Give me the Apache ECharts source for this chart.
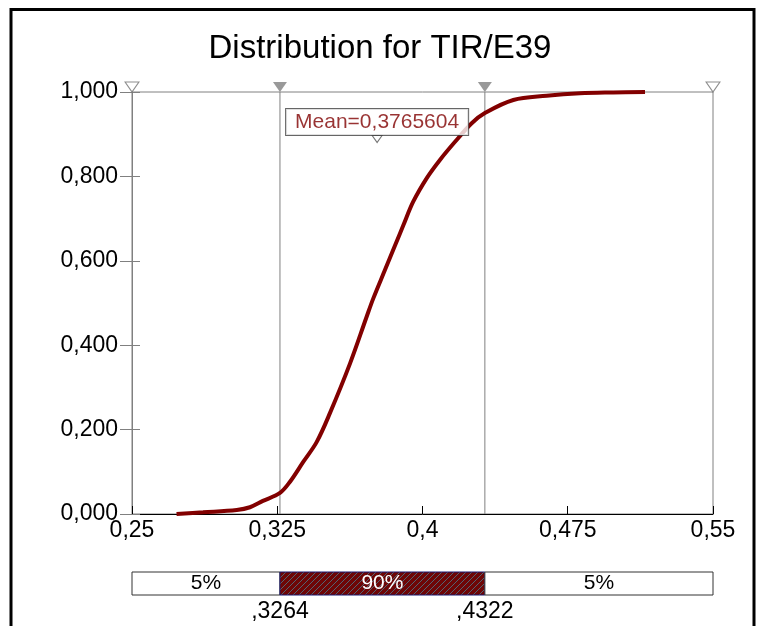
<!DOCTYPE html>
<html>
<head>
<meta charset="utf-8">
<script src="https://cdn.jsdelivr.net/npm/echarts@6/dist/echarts.min.js"></script>
<style>html,body{margin:0;padding:0;background:#fff}#c{width:760px;height:626px}</style>
</head>
<body>
<div id="c"></div>
<script>
// ---- data ----
const titleText = 'Distribution for TIR/E39';
const xVals   = [0.273, 0.2867, 0.3041, 0.3109, 0.3176, 0.3264, 0.3316, 0.3385, 0.3454, 0.3522, 0.3626, 0.3712, 0.3746, 0.3806, 0.3858, 0.3901, 0.3952, 0.4022, 0.4090, 0.4168, 0.4254, 0.4322, 0.4469, 0.4641, 0.4813, 0.4984, 0.5149];
const cdfVals = [0.000, 0.004, 0.0095, 0.016, 0.031, 0.050, 0.0765, 0.124, 0.171, 0.239, 0.357, 0.468, 0.511, 0.578, 0.636, 0.684, 0.740, 0.796, 0.839, 0.882, 0.926, 0.950, 0.981, 0.991, 0.997, 0.999, 1.000];
const xTicks = [0.25, 0.325, 0.4, 0.475, 0.55];
const rangeEnds = [0.25, 0.55];
const pct5 = 0.3264, pct95 = 0.4322;
const meanVal = 0.3765604;
const bounds = [0.25, 0.3264, 0.4322, 0.55];
const pctLabels = ['5%', '90%', '5%'];

const FONT = '"Liberation Sans", Arial, sans-serif';
const comma = s => s.replace('.', ',');

function hatch() {
  const c = document.createElement('canvas'); c.width = 6; c.height = 6;
  const g = c.getContext('2d');
  g.fillStyle = '#6e0606'; g.fillRect(0, 0, 6, 6);
  g.strokeStyle = 'rgba(70,140,160,0.7)'; g.lineWidth = 1;
  g.beginPath();
  g.moveTo(0, 6); g.lineTo(6, 0);
  g.moveTo(-1, 1); g.lineTo(1, -1);
  g.moveTo(5, 7); g.lineTo(7, 5);
  g.stroke();
  return c;
}
const hatchCanvas = hatch();

const curve = xVals.map((x, i) => [x, cdfVals[i]]);
const segments = bounds.slice(0, -1).map((b, i) => [b, bounds[i + 1]]);
const triPath = 'path://M0,0L14,0L7,10Z';
const vline = x => ({
  type: 'line', xAxisIndex: 0, yAxisIndex: 0, data: [[x, 0], [x, 1]], symbol: 'none', silent: true, z: 2,
  lineStyle: { color: '#808080', width: 1 }
});

const chart = echarts.init(document.getElementById('c'));
chart.setOption({
  animation: false,
  backgroundColor: '#fff',
  title: {
    text: titleText, left: 'center', top: 27,
    textStyle: { fontFamily: FONT, fontSize: 33, fontWeight: 'normal', color: '#000' }
  },
  grid: [
    { left: 132, right: 47, top: 92, bottom: 112, show: true, borderColor: '#808080', borderWidth: 1, backgroundColor: 'transparent' },
    { left: 132, right: 47, top: 572, height: 23 }
  ],
  xAxis: [
    {
      type: 'value', gridIndex: 0, min: 0.25, max: 0.55,
      axisLine: { show: true, lineStyle: { color: '#000', width: 1 } },
      axisTick: { show: true, inside: true, length: 8, customValues: xTicks, lineStyle: { color: '#000' } },
      axisLabel: { customValues: xTicks, margin: 5, fontSize: 23, fontFamily: FONT, color: '#000',
        formatter: v => comma(String(+v.toFixed(3))) },
      splitLine: { show: false }
    },
    {
      type: 'value', gridIndex: 1, min: 0.25, max: 0.55,
      axisLine: { show: false }, axisTick: { show: false }, splitLine: { show: false },
      axisLabel: { customValues: [pct5, pct95], margin: 5, fontSize: 23, fontFamily: FONT, color: '#000',
        formatter: v => ',' + v.toFixed(4).split('.')[1] }
    }
  ],
  yAxis: [
    {
      type: 'value', gridIndex: 0, min: 0, max: 1, interval: 0.2,
      axisLine: { show: true, lineStyle: { color: '#808080' } },
      axisTick: { show: true, length: 12, lineStyle: { color: '#808080' } },
      axisLabel: { margin: 14, fontSize: 23, fontFamily: FONT, color: '#000', formatter: v => comma(v.toFixed(3)) },
      splitLine: { show: false }
    },
    {
      type: 'value', gridIndex: 0, min: 0, max: 1, interval: 0.2, position: 'left',
      axisLine: { show: false },
      axisTick: { show: true, inside: true, length: 8, lineStyle: { color: '#808080' } },
      axisLabel: { show: false }, splitLine: { show: false }
    },
    { type: 'value', gridIndex: 1, min: 0, max: 1, show: false }
  ],
  graphic: [
    { type: 'line', shape: { x1: 11, y1: 8, x2: 11, y2: 626 }, style: { stroke: '#000', lineWidth: 3 }, z: 100 },
    { type: 'line', shape: { x1: 10, y1: 9.5, x2: 755, y2: 9.5 }, style: { stroke: '#000', lineWidth: 3 }, z: 100 },
    { type: 'line', shape: { x1: 754, y1: 8, x2: 754, y2: 626 }, style: { stroke: '#000', lineWidth: 3 }, z: 100 }
  ],
  series: [
    vline(pct5),
    vline(pct95),
    {
      type: 'line', xAxisIndex: 0, yAxisIndex: 0, data: curve,
      smooth: 0.35, symbol: 'none', z: 5,
      lineStyle: { color: '#820000', width: 4 }
    },
    {
      type: 'scatter', xAxisIndex: 0, yAxisIndex: 0, clip: false, z: 6,
      data: rangeEnds.map(x => [x, 1]),
      symbol: triPath, symbolSize: [14, 10], symbolOffset: [0, -5],
      itemStyle: { color: '#fff', borderColor: '#707070', borderWidth: 1 }
    },
    {
      type: 'scatter', xAxisIndex: 0, yAxisIndex: 0, clip: false, z: 6,
      data: [[pct5, 1], [pct95, 1]],
      symbol: triPath, symbolSize: [14, 10], symbolOffset: [0, -5],
      itemStyle: { color: '#808080' }
    },
    {
      type: 'scatter', xAxisIndex: 0, yAxisIndex: 0, clip: false, z: 7,
      data: [[meanVal, 1]],
      symbol: 'path://M0,0L10,0L5,7Z', symbolSize: [10, 7], symbolOffset: [0, 47],
      itemStyle: { color: '#fff', borderColor: '#555', borderWidth: 1 },
      label: {
        show: true, position: 'top', distance: 0,
        formatter: () => 'Mean=' + comma(String(meanVal)),
        fontFamily: FONT, fontSize: 21, lineHeight: 21, color: '#800000',
        backgroundColor: '#fff', borderColor: '#404040', borderWidth: 1, padding: [3, 9, 2, 9]
      }
    },
    {
      type: 'custom', xAxisIndex: 1, yAxisIndex: 2, data: segments, clip: false,
      renderItem(params, api) {
        const p0 = api.coord([api.value(0), 1]);
        const p1 = api.coord([api.value(1), 0]);
        const i = params.dataIndex;
        return {
          type: 'rect',
          shape: { x: p0[0], y: p0[1], width: p1[0] - p0[0], height: p1[1] - p0[1] },
          style: {
            fill: i === 1 ? { image: hatchCanvas, repeat: 'repeat' } : '#fff',
            stroke: i === 1 ? '#1a1a70' : '#333', lineWidth: 1
          },
          textContent: { style: { text: pctLabels[i], fill: i === 1 ? '#fff' : '#000', font: '21px ' + FONT } },
          textConfig: { position: 'inside' }
        };
      }
    }
  ]
});
</script>
</body>
</html>
